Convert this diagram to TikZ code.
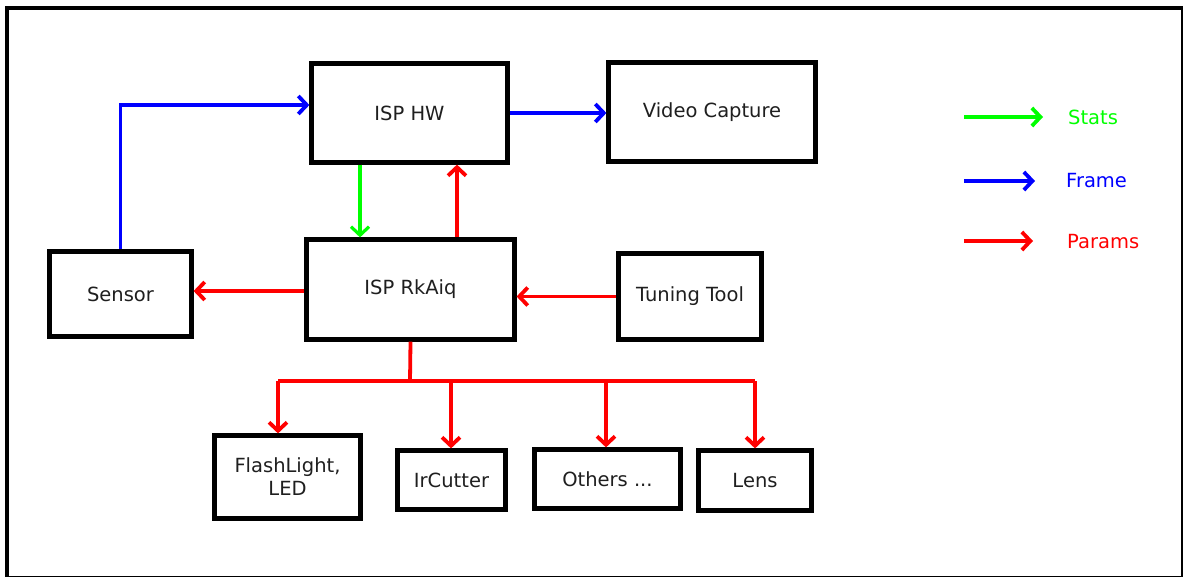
\documentclass[tikz,border=0pt]{standalone}
\usepackage{fontspec}
\setmainfont{DejaVu Sans}
\usepackage{tikz}
\usetikzlibrary{calc}
\usetikzlibrary{arrows.meta}

\begin{document}
\begin{tikzpicture} [x=1pt, y=-1pt,
  blk/.style={draw=black, line width=4.2pt, fill=white, inner sep=0pt, align=center, text=black!88, font=\fontsize{19.5}{23}\selectfont},
  link/.style={line width=3.8pt, -{Straight Barb[length=8.5pt, width=18pt]}},
  stats/.style={link, green, line width=3.2pt},
  frame/.style={link, blue},
  params/.style={link, red},
  lbl/.style={anchor=west, inner sep=0pt, font=\fontsize{19.5}{23}\selectfont}]
\useasboundingbox (0,0) rectangle (1183,576);
\draw[black, line width=4pt] (7,8) rectangle (1182.5,577.5);

\node[blk, minimum width=196, minimum height=99] (hw) at (409.5,113) {ISP HW};
\node[blk, minimum width=207, minimum height=99] (vc) at (712,112) {Video Capture};
\node[blk, minimum width=208, minimum height=100] (aiq) at (410.5,289.5) {ISP RkAiq};
\node[blk, minimum width=142, minimum height=85] (sensor) at (120.5,294) {Sensor};
\node[blk, minimum width=143, minimum height=86] (tool) at (690,296.5) {Tuning Tool};
\node[blk, minimum width=146, minimum height=83] (flash) at (287.5,477) {FlashLight,\\LED};
\node[blk, minimum width=108, minimum height=59] (ircut) at (451.5,480) {IrCutter};
\node[blk, minimum width=146, minimum height=59] (others) at (607.5,479) {Others ...};
\node[blk, minimum width=113, minimum height=60] (lens) at (755,480.5) {Lens};

% frames
\draw[frame] (sensor.north) |- ([yshift=8pt]hw.west);
\draw[frame] (hw.east) -- (hw.east -| vc.west);

% stats and params around the isp
\draw[stats] ([xshift=-49.5pt]hw.south) -- ([xshift=-49.5pt]hw.south |- aiq.north);
\draw[params] ([xshift=46.5pt]aiq.north) -- ([xshift=46.5pt]aiq.north |- hw.south);
\draw[params] ([yshift=-1.5pt]aiq.west) -- ([yshift=-1.5pt]aiq.west -| sensor.east);
\draw[params] (tool.west) -- (tool.west -| aiq.east);

% params bus to the devices
\coordinate (bus) at (410,381);
\coordinate (busL) at (278,381);
\coordinate (busR) at (755,381);
\draw[red, line width=3.8pt] (aiq.south) -- (bus);
\draw[red, line width=3.8pt] (busL) -- (busR);
\foreach \b/\dx in {flash/-9.5, ircut/-0.5, others/-1.5, lens/0}
  \draw[params] ([xshift=\dx pt]\b.north |- bus) -- ([xshift=\dx pt]\b.north);

% legend
\node[lbl, text=green] (lstats) at (1068,117) {Stats};
\node[lbl, text=blue] (lframe) at (1066,181) {Frame};
\node[lbl, text=red] (lparams) at (1067,242) {Params};
\coordinate (s0) at (964,117);
\coordinate (f0) at (964,181);
\coordinate (p0) at (964,241);
\draw[stats, line width=3.8pt] (s0) -- ++(79,0);
\draw[frame] (f0) -- ++(71,0);
\draw[params] (p0) -- ++(69,0);

\end{tikzpicture}
\end{document}
